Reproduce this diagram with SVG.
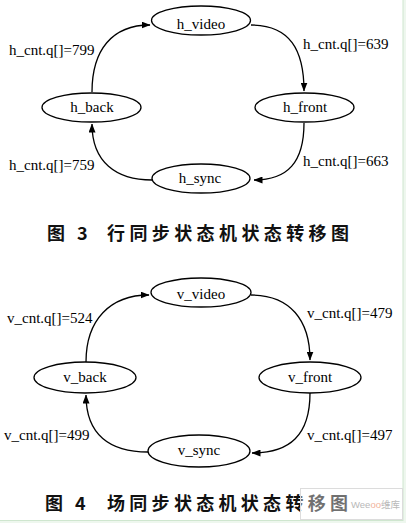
<svg xmlns="http://www.w3.org/2000/svg" width="406" height="523" viewBox="0 0 406 523">
<defs>
<marker id="arr" markerWidth="9" markerHeight="7" refX="8.5" refY="3.5" orient="auto" markerUnits="userSpaceOnUse">
<path d="M0,0 L9,3.5 L0,7 Z" fill="#000"/>
</marker>
<style>
.node ellipse{fill:#fff;stroke:#000;stroke-width:1.3}
.lbl{font-family:"Liberation Serif","Times New Roman",serif;font-size:15px;fill:#000}
.nt{font-family:"Liberation Serif","Times New Roman",serif;font-size:15px;fill:#000;text-anchor:middle}
.edge{fill:none;stroke:#000;stroke-width:1.3;marker-end:url(#arr)}
.cap{font-family:"Noto Sans CJK SC",sans-serif;font-size:18px;font-weight:bold;fill:#111}
.wm{font-family:"Liberation Sans","Noto Sans CJK SC",sans-serif;font-size:9.5px;fill:#b8b8b8}
</style>
</defs>
<rect x="0" y="0" width="406" height="523" fill="#fff"/>
<rect x="403" y="0" width="3" height="523" fill="#eef7ee"/>
<line x1="403" y1="0" x2="403" y2="521" stroke="#cfe6cf" stroke-width="1"/>
<rect x="0" y="521" width="406" height="2" fill="#eef7ee"/>
<line x1="0" y1="520.5" x2="403" y2="520.5" stroke="#cfe6cf" stroke-width="1"/>

<g id="connectors">
<path class="edge" d="M92,92 C92,50 112,25 150,25"/>
<path class="edge" d="M251,25 C290,25 304,50 304,91"/>
<path class="edge" d="M304,123 C304,162 288,180 254,180"/>
<path class="edge" d="M152,180 C116,180 92,162 92,124"/>
<path class="edge" d="M86,362 C86,320 110,295 149,295"/>
<path class="edge" d="M251,295 C290,295 310,320 310,360"/>
<path class="edge" d="M310,393 C310,435 290,453 252,453"/>
<path class="edge" d="M148,452 C110,452 86,435 86,395"/>
</g>

<g id="h_video" class="node"><ellipse cx="201" cy="20.5" rx="49.5" ry="14.5"/><text class="nt" x="201" y="29">h_video</text></g>
<g id="h_back" class="node"><ellipse cx="91.5" cy="107.5" rx="49.5" ry="14.5"/><text class="nt" x="92" y="112">h_back</text></g>
<g id="h_front" class="node"><ellipse cx="304.5" cy="107.5" rx="49.5" ry="14.5"/><text class="nt" x="305" y="112">h_front</text></g>
<g id="h_sync" class="node"><ellipse cx="201" cy="178.5" rx="49" ry="14.5"/><text class="nt" x="200" y="183">h_sync</text></g>

<g id="h_labels">
<text class="lbl" x="9" y="55">h_cnt.q[]=799</text>
<text class="lbl" x="303" y="49">h_cnt.q[]=639</text>
<text class="lbl" x="303" y="166">h_cnt.q[]=663</text>
<text class="lbl" x="9" y="170">h_cnt.q[]=759</text>
</g>

<g id="caption3">
<text class="cap" x="47" y="240">图</text>
<text class="cap" x="77" y="240">3</text>
<text class="cap" x="107" y="240" letter-spacing="4.4">行同步状态机状态转移图</text>
</g>

<g id="v_video" class="node"><ellipse cx="201" cy="292.5" rx="50" ry="14.5"/><text class="nt" x="201" y="299">v_video</text></g>
<g id="v_back" class="node"><ellipse cx="85" cy="377.5" rx="51" ry="15.5"/><text class="nt" x="85" y="382">v_back</text></g>
<g id="v_front" class="node"><ellipse cx="310" cy="377.5" rx="51" ry="15.5"/><text class="nt" x="310" y="382">v_front</text></g>
<g id="v_sync" class="node"><ellipse cx="199" cy="451" rx="51" ry="16"/><text class="nt" x="199" y="455">v_sync</text></g>

<g id="v_labels">
<text class="lbl" x="7" y="323">v_cnt.q[]=524</text>
<text class="lbl" x="307" y="318">v_cnt.q[]=479</text>
<text class="lbl" x="4" y="440">v_cnt.q[]=499</text>
<text class="lbl" x="307" y="440">v_cnt.q[]=497</text>
</g>

<g id="caption4">
<text class="cap" x="45" y="510">图</text>
<text class="cap" x="75" y="510">4</text>
<text class="cap" x="107" y="510" letter-spacing="4.3">场同步状态机状态转移图</text>
</g>

<g id="watermark">
<rect x="300.5" y="488.5" width="102" height="31" fill="#fff" fill-opacity="0.4" stroke="#dcdcdc" stroke-width="1"/>
<text class="wm" x="351" y="508">Wee<tspan fill="#f2b49c">oo</tspan>维库</text>
</g>
</svg>
